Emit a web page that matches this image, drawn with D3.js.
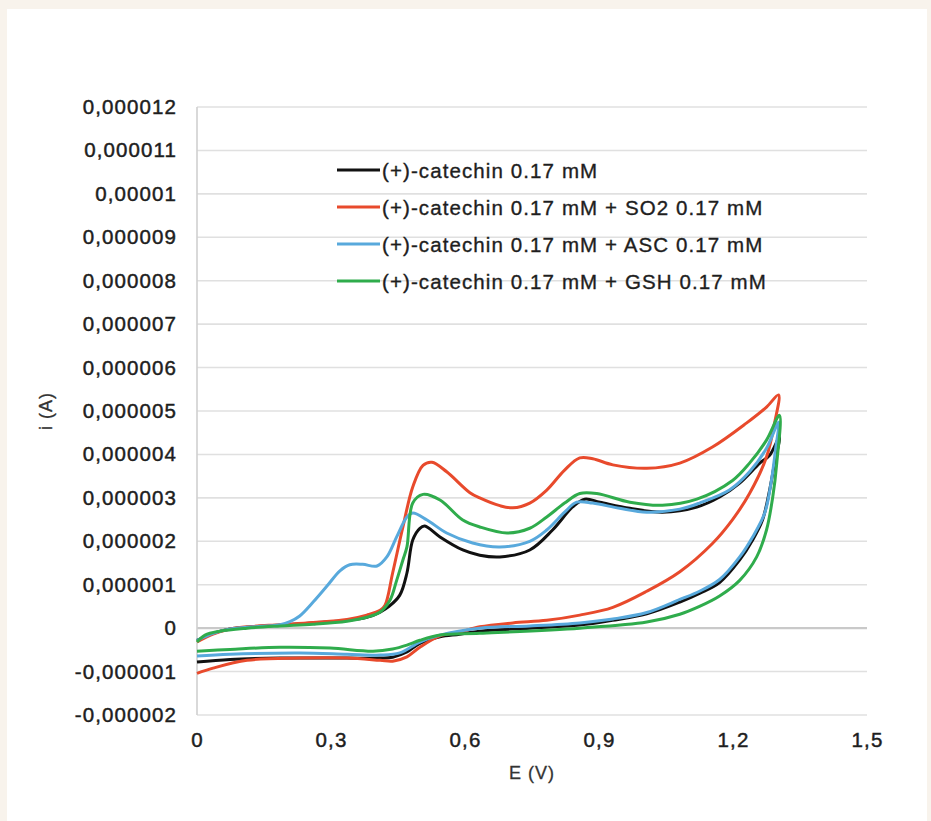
<!DOCTYPE html>
<html>
<head>
<meta charset="utf-8">
<script src="https://cdn.jsdelivr.net/npm/d3@7"></script>
<style>
  body { margin: 0; background: #f8f3ec; }
  svg { display: block; }
  text { font-family: "Liberation Sans", Arial, sans-serif; }
</style>
</head>
<body>
<div id="chart"></div>
<script>
// tick values
var xTicks = [0, 0.3, 0.6, 0.9, 1.2, 1.5];
var yTicks = [-0.000002, -0.000001, 0, 0.000001, 0.000002, 0.000003, 0.000004, 0.000005,
              0.000006, 0.000007, 0.000008, 0.000009, 0.00001, 0.000011, 0.000012];

// series names
var names = ["(+)-catechin 0.17 mM",
             "(+)-catechin 0.17 mM + SO2 0.17 mM",
             "(+)-catechin 0.17 mM + ASC 0.17 mM",
             "(+)-catechin 0.17 mM + GSH 0.17 mM"];

// potential (V) and current (uA), forward scan then reverse scan
var eCat = [0, 0.036, 0.074, 0.112, 0.186, 0.26, 0.336, 0.38, 0.41, 0.43, 0.454, 0.47, 0.483, 0.499, 0.51,
            0.544, 0.595, 0.633, 0.678, 0.745, 0.796, 0.841, 0.868, 0.902, 0.969, 1.042, 1.119, 1.17, 1.215,
            1.26, 1.282, 1.304,
            1.293, 1.282, 1.266, 1.244, 1.215, 1.17, 1.125, 1.081, 1.007, 0.93, 0.857, 0.745, 0.633, 0.588,
            0.544, 0.499, 0.47, 0.438, 0.41, 0.336, 0.186, 0.074, 0];
var iCat = [-0.28, -0.12, -0.02, 0.02, 0.07, 0.12, 0.18, 0.25, 0.37, 0.5, 0.76, 1.27, 2.03, 2.3, 2.35,
            2.1, 1.8, 1.68, 1.64, 1.8, 2.26, 2.79, 2.97, 2.9, 2.76, 2.67, 2.79, 3.02, 3.34,
            3.8, 3.98, 4.4,
            3.8, 3.18, 2.49, 2.03, 1.57, 1.05, 0.8, 0.6, 0.33, 0.18, 0.07, 0, -0.07, -0.14,
            -0.2, -0.35, -0.55, -0.67, -0.69, -0.69, -0.69, -0.72, -0.78];

var eSo2 = [0, 0.036, 0.074, 0.112, 0.186, 0.26, 0.336, 0.38, 0.41, 0.421, 0.438, 0.461, 0.483, 0.506, 0.526,
            0.559, 0.611, 0.633, 0.678, 0.707, 0.745, 0.783, 0.823, 0.857, 0.886, 0.931, 1.007, 1.081, 1.154,
            1.23, 1.275, 1.302,
            1.293, 1.275, 1.237, 1.199, 1.154, 1.081, 1.007, 0.931, 0.857, 0.783, 0.707, 0.633, 0.588,
            0.544, 0.499, 0.47, 0.438, 0.41, 0.336, 0.23, 0.112, 0.036, 0];
var iSo2 = [-0.32, -0.14, -0.02, 0.03, 0.08, 0.13, 0.2, 0.3, 0.41, 0.53, 1.27, 2.33, 3.25, 3.75, 3.82,
            3.6, 3.12, 3.0, 2.82, 2.77, 2.88, 3.18, 3.64, 3.92, 3.9, 3.76, 3.68, 3.8, 4.17,
            4.72, 5.09, 5.37,
            4.72, 3.94, 3.1, 2.5, 1.95, 1.3, 0.85, 0.48, 0.3, 0.18, 0.12, 0.03, -0.09,
            -0.18, -0.44, -0.66, -0.76, -0.74, -0.69, -0.69, -0.74, -0.92, -1.04];

var eAsc = [0, 0.036, 0.074, 0.112, 0.186, 0.208, 0.23, 0.26, 0.291, 0.32, 0.342, 0.371, 0.403, 0.425, 0.447,
            0.47, 0.483, 0.515, 0.559, 0.617, 0.678, 0.745, 0.783, 0.823, 0.85, 0.886, 0.946, 1.007, 1.081,
            1.125, 1.192, 1.237, 1.275, 1.302,
            1.295, 1.286, 1.271, 1.244, 1.215, 1.17, 1.125, 1.081, 1.007, 0.931, 0.857, 0.745, 0.633, 0.544,
            0.499, 0.454, 0.41, 0.336, 0.23, 0.074, 0];
var iAsc = [-0.28, -0.12, -0.02, 0.02, 0.08, 0.15, 0.28, 0.6, 0.97, 1.32, 1.46, 1.47, 1.43, 1.64, 2.1,
            2.56, 2.65, 2.49, 2.19, 1.96, 1.87, 2.0, 2.26, 2.67, 2.9, 2.88, 2.76, 2.67, 2.74,
            2.88, 3.18, 3.6, 4.14, 4.74,
            4.1, 3.4, 2.65, 2.1, 1.64, 1.12, 0.85, 0.66, 0.36, 0.21, 0.12, 0.05, 0, -0.16,
            -0.32, -0.57, -0.62, -0.6, -0.57, -0.6, -0.64];

var eGsh = [0, 0.018, 0.051, 0.112, 0.186, 0.26, 0.336, 0.38, 0.41, 0.432, 0.447, 0.461, 0.47, 0.483, 0.506,
            0.544, 0.595, 0.633, 0.694, 0.745, 0.783, 0.823, 0.857, 0.895, 0.969, 1.042, 1.119, 1.199, 1.237,
            1.275, 1.304,
            1.298, 1.289, 1.275, 1.253, 1.215, 1.17, 1.125, 1.081, 1.007, 0.857, 0.633, 0.544, 0.499, 0.47,
            0.438, 0.394, 0.298, 0.186, 0.074, 0];
var iGsh = [-0.32, -0.16, -0.07, 0, 0.05, 0.09, 0.16, 0.25, 0.37, 0.64, 1.1, 1.57, 1.87, 2.88, 3.08,
            2.95, 2.49, 2.33, 2.19, 2.3, 2.56, 2.88, 3.1, 3.1, 2.9, 2.83, 2.97, 3.4, 3.8,
            4.33, 4.9,
            3.8, 3.02, 2.26, 1.64, 1.1, 0.74, 0.5, 0.32, 0.14, 0, -0.12, -0.16, -0.28, -0.39,
            -0.48, -0.53, -0.46, -0.44, -0.49, -0.53];

var colors = ["#111111", "#e84a2c", "#58a9dc", "#2fac4c"];

var width = 931,
    height = 821;

var svg = d3.select("#chart").append("svg")
    .attr("width", width)
    .attr("height", height);

// white panel on the cream page
svg.append("rect")
    .attr("x", 7).attr("y", 9)
    .attr("width", 920).attr("height", 812)
    .attr("fill", "#ffffff");

var x = d3.scaleLinear().domain([0, 1.5]).range([197, 867]);
var y = d3.scaleLinear().domain([-0.000002, 0.000012]).range([715, 107]);

// comma as decimal separator
var locale = d3.formatLocale({decimal: ",", thousands: ".", grouping: [3], currency: ["", ""], minus: "-"});
var fmt = locale.format("~f");

// gridlines
svg.append("g").selectAll("line")
    .data(yTicks)
    .enter().append("line")
    .attr("x1", x(0)).attr("x2", x(1.5))
    .attr("y1", function(d) { return y(d); })
    .attr("y2", function(d) { return y(d); })
    .attr("stroke", function(d) { return d == 0 ? "#c9c9c9" : "#e0e0e0"; })
    .attr("stroke-width", function(d) { return d == 0 ? 2.2 : 1.6; });

// vertical axis line
svg.append("line")
    .attr("x1", x(0)).attr("x2", x(0))
    .attr("y1", y(0.000012)).attr("y2", y(-0.000002))
    .attr("stroke", "#d0d0d0")
    .attr("stroke-width", 1.6);

// y axis labels
var yAxis = svg.append("g")
    .attr("transform", "translate(" + x(0) + ",0)")
    .call(d3.axisLeft(y).tickValues(yTicks).tickFormat(fmt).tickSize(0).tickPadding(20));
yAxis.select(".domain").remove();
yAxis.selectAll("text")
    .attr("font-family", "Liberation Sans, Arial, sans-serif")
    .attr("font-size", "20.5px")
    .attr("letter-spacing", "1.1px")
    .attr("fill", "#1e1e1e")
    .attr("stroke", "#1e1e1e")
    .attr("stroke-width", 0.45);

// x axis labels
var xAxis = svg.append("g")
    .attr("transform", "translate(0," + y(-0.000002) + ")")
    .call(d3.axisBottom(x).tickValues(xTicks).tickFormat(fmt).tickSize(0).tickPadding(17));
xAxis.select(".domain").remove();
xAxis.selectAll("text")
    .attr("font-family", "Liberation Sans, Arial, sans-serif")
    .attr("font-size", "20.5px")
    .attr("letter-spacing", "1.1px")
    .attr("fill", "#1e1e1e")
    .attr("stroke", "#1e1e1e")
    .attr("stroke-width", 0.45);

// axis titles
svg.append("text")
    .attr("x", 532).attr("y", 779)
    .attr("text-anchor", "middle")
    .attr("font-size", "18px")
    .attr("letter-spacing", "1px")
    .attr("fill", "#333")
    .attr("stroke", "#333")
    .attr("stroke-width", 0.3)
    .text("E (V)");

svg.append("text")
    .attr("transform", "translate(52,411) rotate(-90)")
    .attr("text-anchor", "middle")
    .attr("font-size", "18px")
    .attr("letter-spacing", "1px")
    .attr("fill", "#333")
    .attr("stroke", "#333")
    .attr("stroke-width", 0.3)
    .text("i (A)");

// curves
var line = d3.line()
    .x(function(d) { return x(d[0]); })
    .y(function(d) { return y(d[1] * 1e-6); })
    .curve(d3.curveCatmullRom.alpha(0.5));

var series = [[eCat, iCat], [eSo2, iSo2], [eAsc, iAsc], [eGsh, iGsh]];

svg.append("g").selectAll("path")
    .data(series)
    .enter().append("path")
    .attr("d", function(s) { return line(d3.zip(s[0], s[1])); })
    .attr("fill", "none")
    .attr("stroke", function(d, i) { return colors[i]; })
    .attr("stroke-width", 3)
    .attr("stroke-linejoin", "round");

// legend
var legend = svg.append("g").selectAll("g")
    .data(names)
    .enter().append("g")
    .attr("transform", function(d, i) { return "translate(337," + (170 + i * 37) + ")"; });

legend.append("line")
    .attr("x1", 0).attr("x2", 43)
    .attr("stroke", function(d, i) { return colors[i]; })
    .attr("stroke-width", 3);

legend.append("text")
    .attr("x", 45).attr("y", 3)
    .attr("dominant-baseline", "middle")
    .attr("font-size", "20.5px")
    .attr("letter-spacing", "1.1px")
    .attr("fill", "#1e1e1e")
    .attr("stroke", "#1e1e1e")
    .attr("stroke-width", 0.35)
    .text(function(d) { return d; });
</script>
</body>
</html>
